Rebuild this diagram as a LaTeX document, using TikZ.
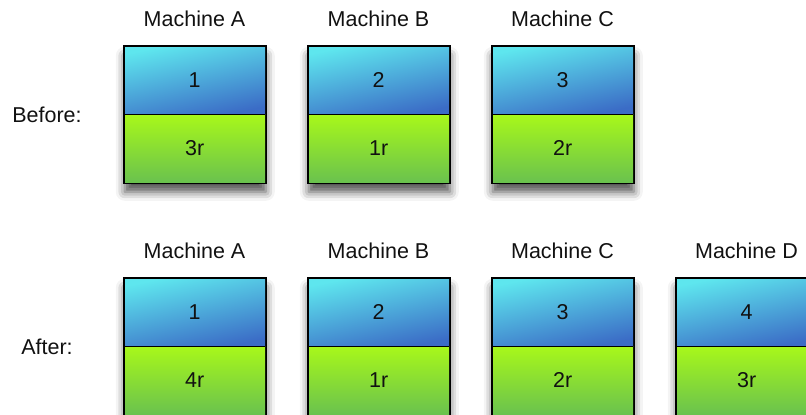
\documentclass[tikz,border=0pt]{standalone}
\usepackage{fontspec}
\setmainfont{Liberation Sans}
\usetikzlibrary{shadows.blur}
\definecolor{cyantop}{HTML}{5EE6EE}
\definecolor{bluebot}{HTML}{3B6CC6}
\definecolor{greentop}{HTML}{A8F81A}
\definecolor{greenbot}{HTML}{6AC24E}
\definecolor{ink}{HTML}{111111}
\tikzset{
  machinebox/.style={draw=black, line width=1.6pt, fill=white, anchor=north west,
    minimum width=141pt, minimum height=136pt, inner sep=0pt,
    blur shadow={shadow xshift=0pt, shadow yshift=-9pt, shadow blur radius=9pt, shadow opacity=70}},
  half/.style={anchor=north west, minimum width=141pt, minimum height=68pt,
    inner sep=0pt, text=ink, font=\fontsize{21.5}{26}\selectfont},
  primary/.style={half, top color=cyantop, bottom color=bluebot, shading angle=12},
  replica/.style={half, top color=greentop, bottom color=greenbot},
  frameline/.style={draw=black, line width=1.6pt},
  caption/.style={text=ink, font=\fontsize{21.5}{26}\selectfont, inner sep=0pt}
}
\begin{document}
\begin{tikzpicture}[x=1pt, y=-1pt]
\useasboundingbox (0,0) rectangle (806,415);

% Row labels
\node[caption] (before) at (47,115) {Before:};
\node[caption] (after) at (47,347) {After:};

% Before: three machines
\foreach \i/\m/\p/\r in {0/A/1/3r, 1/B/2/1r, 2/C/3/2r} {
  \node[machinebox] (bx\m) at (124+184*\i, 46) {};
  \node[primary] (bp\m) at (124+184*\i, 46) {\p};
  \node[replica] (br\m) at (124+184*\i, 114) {\r};
  \draw[frameline] (bx\m.north west) rectangle (bx\m.south east);
  \draw[frameline] (bp\m.south west) -- (bp\m.south east);
  \node[caption] (bl\m) at (194.5+184*\i, 19) {Machine \m};
}

% After: four machines
\foreach \i/\m/\p/\r in {0/A/1/4r, 1/B/2/1r, 2/C/3/2r, 3/D/4/3r} {
  \node[machinebox] (ax\m) at (124+184*\i, 278) {};
  \node[primary] (ap\m) at (124+184*\i, 278) {\p};
  \node[replica] (ar\m) at (124+184*\i, 346) {\r};
  \draw[frameline] (ax\m.north west) rectangle (ax\m.south east);
  \draw[frameline] (ap\m.south west) -- (ap\m.south east);
  \node[caption] (al\m) at (194.5+184*\i, 251) {Machine \m};
}
\end{tikzpicture}
\end{document}
